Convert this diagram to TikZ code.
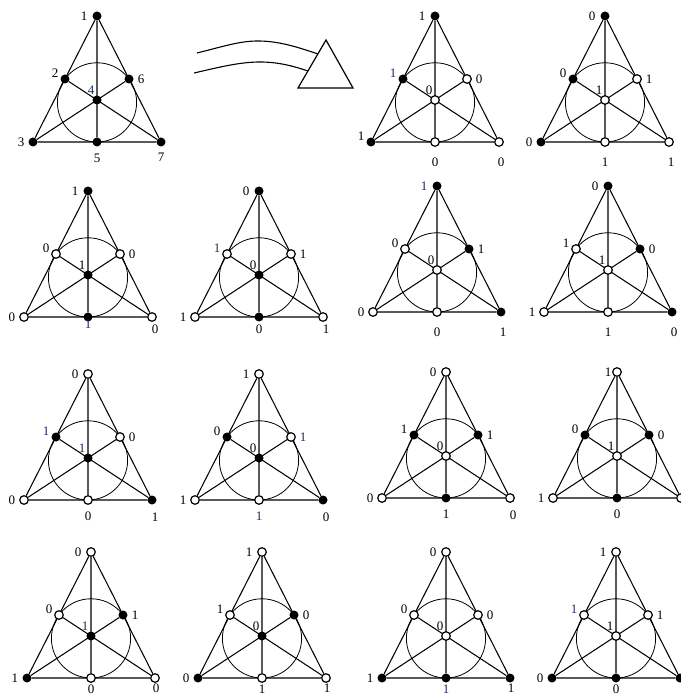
\documentclass[tikz,border=0pt]{standalone}
\usepackage{fontspec}
\setmainfont{Liberation Serif}
\usetikzlibrary{backgrounds}
\definecolor{nb}{RGB}{30,45,95}
\newcommand{\bn}[1]{\textcolor{nb}{#1}}
\tikzset{
 fdot/.style={circle,fill=black,inner sep=0pt,minimum size=9pt},
 hdot/.style={circle,draw=black,fill=white,line width=1.2pt,inner sep=0pt,minimum size=8.6pt},
 edge/.style={line width=1.05pt},
 ring/.style={line width=0.8pt},
 lab/.style={inner sep=0pt,font=\fontsize{13}{15}\selectfont},
 labT/.style={xshift=-13pt},
 labL/.style={xshift=-10pt,yshift=6pt},
 labR/.style={xshift=12pt},
 labC/.style={xshift=-6pt,yshift=10pt},
 labBL/.style={xshift=-12pt},
 labB/.style={yshift=-17pt},
 labBR/.style={xshift=3pt,yshift=-16pt},
 row1/.style={labB/.style={yshift=-20pt},labBR/.style={xshift=2pt,yshift=-20pt}},
 row2/.style={labB/.style={yshift=-12pt},labBR/.style={xshift=3pt,yshift=-12pt}},
 row3/.style={labB/.style={yshift=-16pt},labBR/.style={xshift=3pt,yshift=-17pt}},
 row4/.style={labB/.style={yshift=-11pt},labBR/.style={xshift=1pt,yshift=-10pt}},
}
\newcommand{\fanotri}[4]{%
 \begin{scope}[shift={#2},#4]
  \coordinate (#1cT) at (0,0);
  \coordinate (#1cL) at (-32,63);
  \coordinate (#1cR) at (32,63);
  \coordinate (#1cC) at (0,84);
  \coordinate (#1cBL) at (-64,126);
  \coordinate (#1cB) at (0,126);
  \coordinate (#1cBR) at (64,126);
  \coordinate (#1O) at (0,86.37);
  \foreach \p/\s/\l in {#3} {
    \node[\s dot] (#1\p) at (#1c\p) {};
    \ifx\l\empty\else \node[lab,lab\p] (#1l\p) at (#1c\p) {\l};\fi
  }
  \begin{pgfonlayer}{background}
   \draw[edge] (#1T) -- (#1BL) (#1BL) -- (#1BR) (#1BR) -- (#1T)
     (#1T) -- (#1B) (#1BL) -- (#1R) (#1BR) -- (#1L);
   \draw[ring] (#1O) circle[radius=39.6];
  \end{pgfonlayer}
 \end{scope}}
\begin{document}
\begin{tikzpicture}[x=1pt,y=-1pt]
\useasboundingbox (0,0) rectangle (680,700);
% arrow band and prism
\draw[line width=1.1pt] (197,53) .. controls (225,46) and (240,41) .. (258,41) .. controls (280,41) and (300,48) .. (318,54);
\draw[line width=1.1pt] (194,73) .. controls (220,67) and (240,62) .. (260,62) .. controls (280,62) and (296,67) .. (308,71);
\draw[line width=1.2pt, line join=miter] (298,88) -- (326,40) -- (353,88) -- cycle;
% row 1
\fanotri{a}{(97,16)}{T/f/1, L/f/2, R/f/6, C/f/\bn{4}, BL/f/3, B/f/5, BR/f/7}{labB/.style={yshift=-16pt},labBR/.style={yshift=-15pt}}
\fanotri{b}{(435,16)}{T/f/1, L/f/\bn{1}, R/h/0, C/h/0, BL/f/1, B/h/0, BR/h/0}{row1,labBL/.style={xshift=-10pt,yshift=6pt}}
\fanotri{c}{(605,16)}{T/f/0, L/f/0, R/h/1, C/h/1, BL/f/0, B/h/1, BR/h/1}{row1}
% row 2
\fanotri{d}{(88,191)}{T/f/1, L/h/0, R/h/0, C/f/1, BL/h/0, B/f/\bn{1}, BR/h/0}{row2,labB/.style={yshift=-7pt}}
\fanotri{e}{(259,191)}{T/f/0, L/h/\bn{1}, R/h/1, C/f/0, BL/h/1, B/f/0, BR/h/1}{row2}
\fanotri{f}{(437,186)}{T/f/\bn{1}, L/h/0, R/f/1, C/h/0, BL/h/0, B/h/0, BR/f/1}{row1}
\fanotri{g}{(608,186)}{T/f/0, L/h/1, R/f/0, C/h/1, BL/h/1, B/h/1, BR/f/0}{row1}
% row 3
\fanotri{h}{(88,374)}{T/h/0, L/f/\bn{1}, R/h/0, C/f/\bn{1}, BL/h/0, B/h/0, BR/f/1}{row3}
\fanotri{i}{(259,374)}{T/h/1, L/f/0, R/h/\bn{1}, C/f/0, BL/h/1, B/h/\bn{1}, BR/f/0}{row3}
\fanotri{j}{(446,372)}{T/h/0, L/f/1, R/f/1, C/h/0, BL/h/0, B/f/1, BR/h/0}{row3}
\fanotri{k}{(617,372)}{T/h/1, L/f/0, R/f/0, C/h/1, BL/h/1, B/f/0, BR/h/}{row3,labT/.style={xshift=-9pt}}
% row 4
\fanotri{m}{(91,552)}{T/h/0, L/h/0, R/f/1, C/f/\bn{1}, BL/f/1, B/h/0, BR/h/0}{row4}
\fanotri{n}{(262,552)}{T/h/1, L/h/1, R/f/0, C/f/0, BL/f/0, B/h/1, BR/h/1}{row4}
\fanotri{o}{(446,552)}{T/h/0, L/h/0, R/h/0, C/h/0, BL/f/1, B/f/\bn{1}, BR/f/1}{row4}
\fanotri{q}{(616,552)}{T/h/1, L/h/\bn{1}, R/h/1, C/h/1, BL/f/0, B/f/0, BR/f/}{row4}
\end{tikzpicture}
\end{document}
